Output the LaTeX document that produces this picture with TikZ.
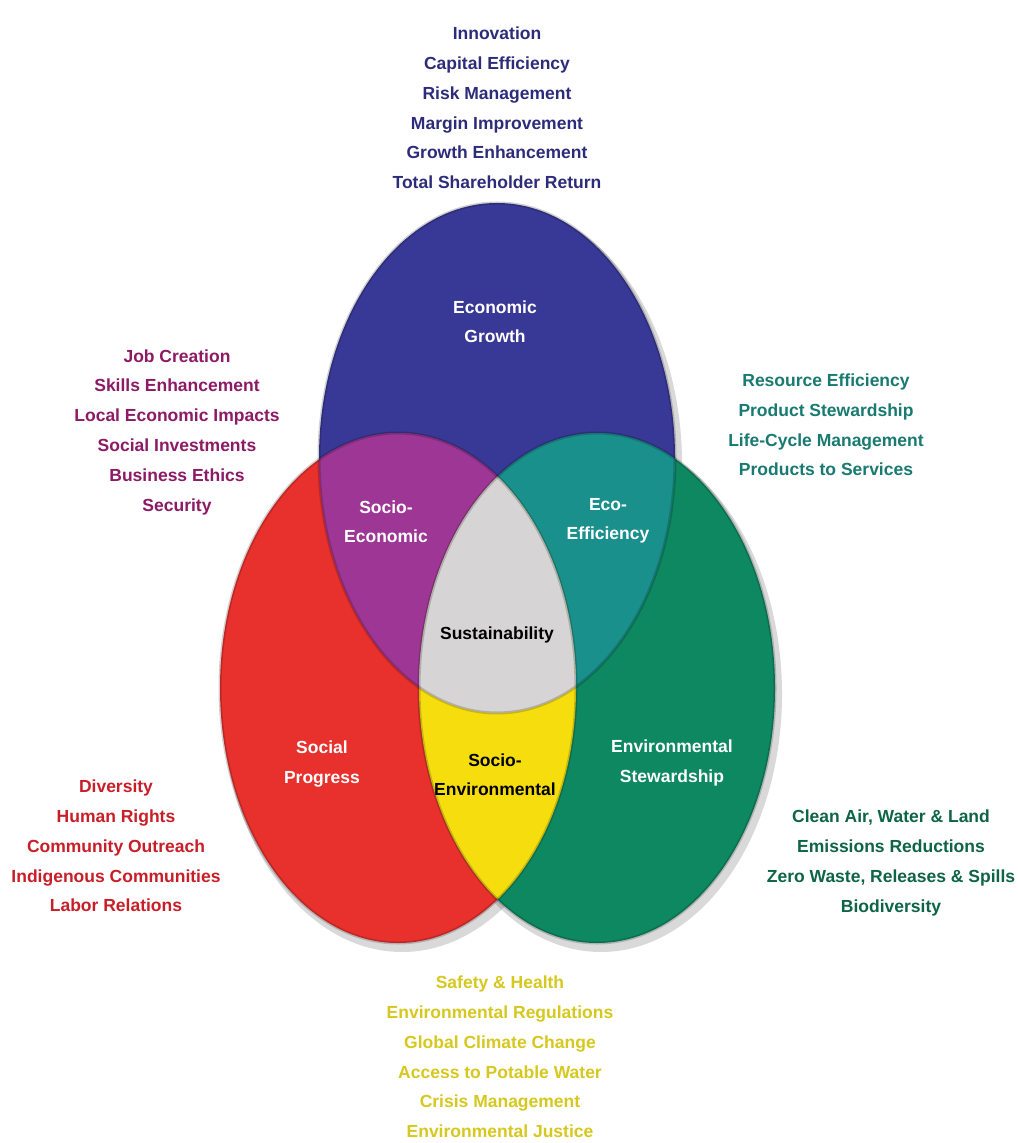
\documentclass[tikz,border=0pt]{standalone}
\usepackage{fontspec}
\setmainfont{Liberation Sans}
\definecolor{econblue}{RGB}{56,56,150}
\definecolor{socred}{RGB}{232,48,44}
\definecolor{envgreen}{RGB}{14,136,96}
\definecolor{sepurple}{RGB}{158,54,150}
\definecolor{eeteal}{RGB}{26,144,140}
\definecolor{seyellow}{RGB}{246,222,14}
\definecolor{sustgray}{RGB}{214,212,212}
\definecolor{navytext}{RGB}{44,44,122}
\definecolor{plumtext}{RGB}{140,26,100}
\definecolor{tealtext}{RGB}{24,122,112}
\definecolor{redtext}{RGB}{200,30,40}
\definecolor{greentext}{RGB}{14,100,70}
\definecolor{yellowtext}{RGB}{214,200,30}
\begin{document}
\begin{tikzpicture}[x=0.5pt,y=0.5pt,
    list/.style={align=center, inner sep=0pt, font=\bfseries\fontsize{8.75}{14.9}\selectfont},
    area/.style={align=center, inner sep=0pt, font=\bfseries\fontsize{8.75}{14.6}\selectfont}]
    \useasboundingbox (0,0) rectangle (1017,-1143);
    \fill [white] (0,0) rectangle (1017,-1143);
    % soft shadows
    \fill [black, opacity=0.15] (501,-464) ellipse (181 and 258);
    \fill [black, opacity=0.15] (402,-694) ellipse (181 and 258);
    \fill [black, opacity=0.15] (601,-694) ellipse (181 and 258);
    % three circles
    \fill [econblue] (497,-458) ellipse (178 and 255);
    \fill [socred] (398,-688) ellipse (178 and 255);
    \fill [envgreen] (597,-688) ellipse (178 and 255);
    % overlaps
    \begin{scope}
    \clip (497,-458) ellipse (178 and 255);
    \fill [sepurple] (398,-688) ellipse (178 and 255);
    \fill [eeteal] (597,-688) ellipse (178 and 255);
    \end{scope}
    \begin{scope}
    \clip (398,-688) ellipse (178 and 255);
    \fill [seyellow] (597,-688) ellipse (178 and 255);
    \clip (497,-458) ellipse (178 and 255);
    \fill [sustgray] (597,-688) ellipse (178 and 255);
    \end{scope}
    \draw [black, opacity=0.18, line width=1.5pt] (497,-458) ellipse (178 and 255);
    \draw [black, opacity=0.18, line width=1.5pt] (398,-688) ellipse (178 and 255);
    \draw [black, opacity=0.18, line width=1.5pt] (597,-688) ellipse (178 and 255);
    % labels inside
    \node [area, white] (econ) at (495,-322) {Economic\\Growth};
    \node [area, white] (socecon) at (386,-522) {Socio-\\Economic};
    \node [area, white] (ecoeff) at (608,-521) {Eco-\\Efficiency};
    \node [area, black] (sust) at (497,-635) {Sustainability};
    \node [area, white] (social) at (322,-764) {Social\\Progress};
    \node [area, black] (socenv) at (495,-775) {Socio-\\Environmental};
    \node [area, white] (envstew) at (672,-763) {Environmental\\Stewardship};
    % lists outside
    \node [list, navytext] (econlist) at (497,-108) {Innovation\\Capital Efficiency\\Risk Management\\Margin Improvement\\Growth Enhancement\\Total Shareholder Return};
    \node [list, plumtext] (socieconlist) at (177,-432) {Job Creation\\Skills Enhancement\\Local Economic Impacts\\Social Investments\\Business Ethics\\Security};
    \node [list, tealtext] (ecoefflist) at (826,-425) {Resource Efficiency\\Product Stewardship\\Life-Cycle Management\\Products to Services};
    \node [list, redtext] (sociallist) at (116,-846) {Diversity\\Human Rights\\Community Outreach\\Indigenous Communities\\Labor Relations};
    \node [list, greentext] (envlist) at (891,-863) {Clean Air, Water \& Land\\Emissions Reductions\\Zero Waste, Releases \& Spills\\Biodiversity};
    \node [list, yellowtext] (socenvlist) at (500,-1057) {Safety \& Health\\Environmental Regulations\\Global Climate Change\\Access to Potable Water\\Crisis Management\\Environmental Justice};
    \end{tikzpicture}
\end{document}
